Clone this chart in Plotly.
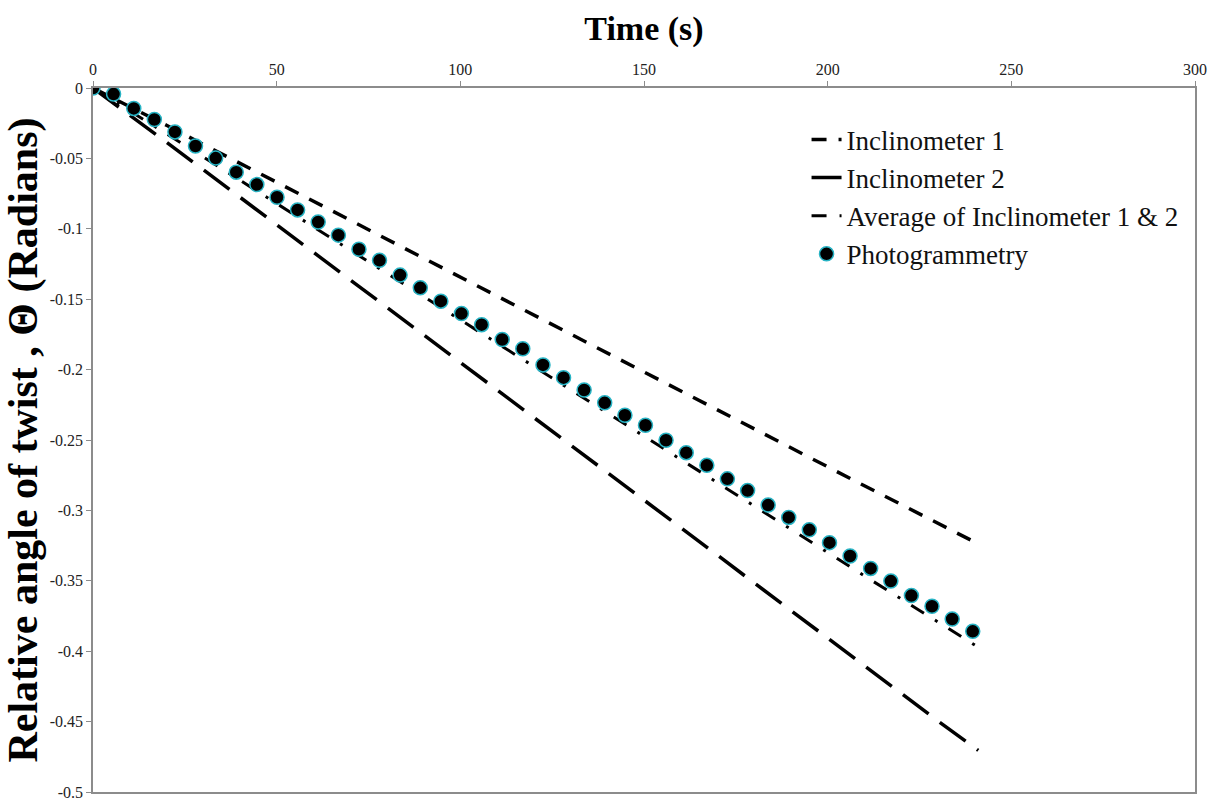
import plotly.graph_objects as go

# ---------------- data ----------------
incl_time = [0, 10, 20, 30, 40, 50, 60, 70, 80, 90, 100, 110, 120, 130, 140, 150,
             160, 170, 180, 190, 200, 210, 220, 230, 241]
incl1 = [0, -0.0130, -0.0265, -0.0400, -0.0535, -0.0668, -0.0800, -0.0938, -0.1075,
         -0.1210, -0.1345, -0.1478, -0.1612, -0.1748, -0.1883, -0.2018, -0.2150,
         -0.2285, -0.2420, -0.2555, -0.2690, -0.2825, -0.2958, -0.3092, -0.3238]
incl2 = [0, -0.0190, -0.0385, -0.0580, -0.0775, -0.0970, -0.1165, -0.1360, -0.1555,
         -0.1750, -0.1948, -0.2145, -0.2340, -0.2535, -0.2730, -0.2925, -0.3120,
         -0.3318, -0.3515, -0.3712, -0.3908, -0.4105, -0.4300, -0.4495, -0.4705]
incl_avg = [0, -0.0160, -0.0325, -0.0490, -0.0655, -0.0819, -0.0983, -0.1149, -0.1315,
            -0.1480, -0.1647, -0.1812, -0.1976, -0.2142, -0.2307, -0.2472, -0.2635,
            -0.2802, -0.2968, -0.3134, -0.3299, -0.3465, -0.3629, -0.3794, -0.3972]

photo_time = [0, 5.6, 11.1, 16.7, 22.3, 27.9, 33.4, 39.0, 44.6, 50.1, 55.7, 61.3,
              66.8, 72.4, 78.0, 83.6, 89.1, 94.7, 100.3, 105.8, 111.4, 117.0, 122.5,
              128.1, 133.7, 139.3, 144.8, 150.4, 156.0, 161.5, 167.1, 172.7, 178.2,
              183.8, 189.4, 195.0, 200.5, 206.1, 211.7, 217.2, 222.8, 228.4, 233.9, 239.5]
photo = [0, -0.0043, -0.0145, -0.0224, -0.0312, -0.0412, -0.0498, -0.0598, -0.0686,
         -0.0776, -0.0866, -0.0952, -0.1045, -0.1145, -0.1224, -0.1329, -0.1419,
         -0.1514, -0.1602, -0.1681, -0.1786, -0.1852, -0.1967, -0.2057, -0.2145,
         -0.2236, -0.2324, -0.2395, -0.2502, -0.2590, -0.2680, -0.2776, -0.2859,
         -0.2962, -0.3050, -0.3138, -0.3229, -0.3324, -0.3412, -0.3502, -0.3605,
         -0.3681, -0.3771, -0.3859]

x_tickvals = [0, 50, 100, 150, 200, 250, 300]
x_ticktext = ["0", "50", "100", "150", "200", "250", "300"]
y_tickvals = [0, -0.05, -0.1, -0.15, -0.2, -0.25, -0.3, -0.35, -0.4, -0.45, -0.5]
y_ticktext = ["0", "-0.05", "-0.1", "-0.15", "-0.2", "-0.25", "-0.3", "-0.35",
              "-0.4", "-0.45", "-0.5"]

FONT = "Liberation Serif"

fig = go.Figure()
fig.add_trace(go.Scatter(x=incl_time, y=incl1, mode="lines", name="Inclinometer 1",
                         legendgroup="a",
                         line=dict(color="black", width=3.5, dash="15px,12px")))
fig.add_trace(go.Scatter(x=incl_time, y=incl2, mode="lines", name="Inclinometer 2",
                         legendgroup="b",
                         line=dict(color="black", width=3.5, dash="32px,14px")))
fig.add_trace(go.Scatter(x=incl_time, y=incl_avg, mode="lines",
                         name="Average of Inclinometer 1 & 2", legendgroup="c",
                         line=dict(color="black", width=3, dash="15px,13px,3px,13px")))
fig.add_trace(go.Scatter(x=photo_time, y=photo, mode="markers", name="Photogrammetry",
                         legendgroup="d",
                         marker=dict(color="black", size=14,
                                     line=dict(color="#27b3c4", width=1.5))))

fig.update_layout(
    width=1220, height=800,
    margin=dict(l=93, r=25, t=88, b=8),
    paper_bgcolor="white", plot_bgcolor="white",
    font=dict(family=FONT, color="#222"),
    showlegend=True,
    legend=dict(x=0.6475, y=0.961, xanchor="left", yanchor="top",
                font=dict(family=FONT, size=27, color="#111"),
                traceorder="grouped", tracegroupgap=0,
                bgcolor="rgba(0,0,0,0)"),
    xaxis=dict(side="top", range=[0, 300], tickvals=x_tickvals, ticktext=x_ticktext,
               automargin=False, ticklabeloverflow="allow",
               showgrid=False, zeroline=False, showline=True, linecolor="#8c8c8c",
               linewidth=1.5, mirror=True, ticks="outside", ticklen=5,
               tickcolor="#8c8c8c", tickfont=dict(family=FONT, size=16, color="#222"),
               title=dict(text="<b>Time (s)</b>",
                          font=dict(family=FONT, size=34, color="black"), standoff=10)),
    yaxis=dict(range=[-0.5, 0], tickvals=y_tickvals, ticktext=y_ticktext,
               automargin=False, ticklabeloverflow="allow",
               showgrid=False, zeroline=False, showline=True, linecolor="#8c8c8c",
               linewidth=1.5, mirror=True, ticks="outside", ticklen=5,
               tickcolor="#8c8c8c", tickfont=dict(family=FONT, size=16, color="#222"),
               title=dict(text="<b>Relative angle of twist , Θ (Radians)</b>",
                          font=dict(family=FONT, size=42, color="black"), standoff=10)),
)

fig.write_html("out.html")
